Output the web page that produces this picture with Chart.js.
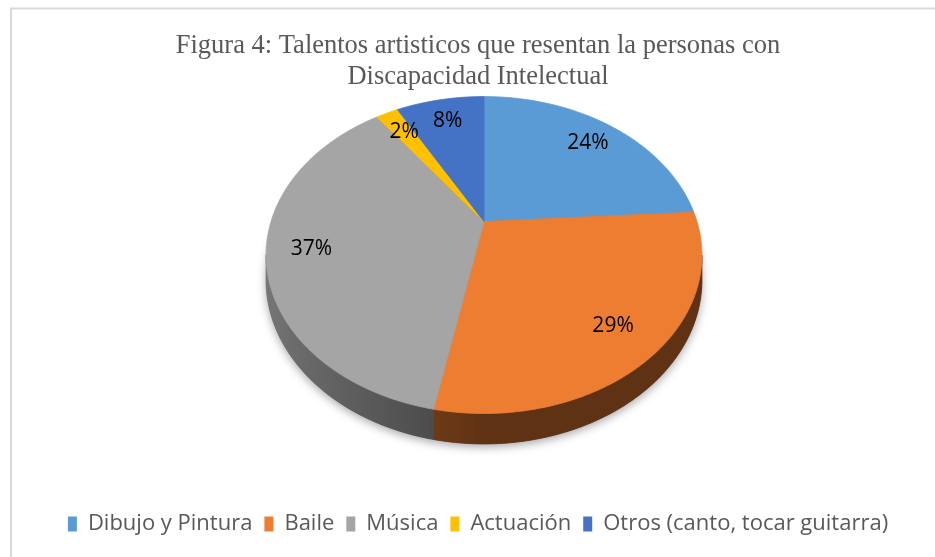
<!DOCTYPE html>
<html><head><meta charset="utf-8">
<script src="https://cdn.jsdelivr.net/npm/chart.js@4.4.0/dist/chart.umd.min.js"></script>
<style>html,body{margin:0;padding:0;background:#fff}canvas{display:block}</style>
</head><body>
<canvas id="c" width="935" height="557"></canvas>
<script>
const categories = ['Dibujo y Pintura', 'Baile', 'Música', 'Actuación', 'Otros (canto, tocar guitarra)'];
const values = [24, 29, 37, 2, 8];
const colors = ['#5b9bd5', '#ed7d31', '#a5a5a5', '#ffc000', '#4472c4'];
const titleLines = ['Figura 4: Talentos artisticos que resentan la personas con', 'Discapacidad Intelectual'];

// style / projection constants (3D look)
const GEOM = { A: 213, B: 151.4, k: 0.2114, H: 24, labelR: 0.8, topOffset: 125, dx: 6 };

function hexToRgb(h) { const n = parseInt(h.slice(1), 16); return [(n >> 16) & 255, (n >> 8) & 255, n & 255]; }
function shade(hex, f) { const c = hexToRgb(hex); return 'rgb(' + c.map(v => Math.round(v * f)).join(',') + ')'; }
function sideFactor(th) { return 0.4 + 0.33 * Math.max(0, -Math.sin(th)); }

const pie3d = {
  id: 'pie3d',
  beforeDraw(chart) {
    const ctx = chart.ctx;
    ctx.save();
    ctx.strokeStyle = '#d9d9d9';
    ctx.lineWidth = 2;
    ctx.strokeRect(11, 8.5, 3000, 3000);
    ctx.restore();
  },
  beforeDatasetsDraw(chart) {
    const ctx = chart.ctx;
    const meta = chart.getDatasetMeta(0);
    const ca = chart.chartArea;
    const cx = (ca.left + ca.right) / 2 + GEOM.dx, cy = ca.top + GEOM.topOffset;
    const P = (th, f, d) => {
      const s = Math.sin(th), c = Math.cos(th);
      const w = 1 + GEOM.k * f * c;
      return [cx + GEOM.A * f * s / w, cy - GEOM.B * f * c / w + GEOM.H * d / w];
    };
    const arcs = meta.data.map((a, i) => ({ s: a.startAngle + Math.PI / 2, e: a.endAngle + Math.PI / 2, i }));
    const step = Math.PI / 360;
    const ds = chart.data.datasets[0];
    ctx.save();
    // shadow under the disk
    ctx.beginPath();
    for (let t = 0; t <= Math.PI * 2 + 1e-9; t += step) {
      const p = P(t, 1, 1);
      if (t === 0) ctx.moveTo(p[0], p[1]); else ctx.lineTo(p[0], p[1]);
    }
    ctx.closePath();
    ctx.shadowColor = 'rgba(0,0,0,0.35)';
    ctx.shadowBlur = 10;
    ctx.shadowOffsetY = 3;
    ctx.fillStyle = '#555';
    ctx.fill();
    ctx.shadowColor = 'transparent';
    ctx.shadowBlur = 0; ctx.shadowOffsetY = 0;
    // sides
    const t1 = Math.acos(-GEOM.k), t2 = 2 * Math.PI - t1;
    arcs.forEach(a => {
      const lo = Math.max(a.s, t1), hi = Math.min(a.e, t2);
      if (hi <= lo) return;
      const base = ds.backgroundColor[a.i];
      const pts = [];
      const n = Math.max(2, Math.ceil((hi - lo) / step));
      for (let j = 0; j <= n; j++) pts.push(lo + (hi - lo) * j / n);
      ctx.beginPath();
      pts.forEach((t, j) => { const p = P(t, 1, 0); if (j === 0) ctx.moveTo(p[0], p[1]); else ctx.lineTo(p[0], p[1]); });
      for (let j = pts.length - 1; j >= 0; j--) { const p = P(pts[j], 1, 1); ctx.lineTo(p[0], p[1]); }
      ctx.closePath();
      const xs = pts.map(t => P(t, 1, 0)[0]);
      const xmin = Math.min(...xs), xmax = Math.max(...xs);
      const g = ctx.createLinearGradient(xmin, 0, xmax + 0.001, 0);
      for (let j = 0; j <= 8; j++) {
        const t = lo + (hi - lo) * j / 8;
        const x = P(t, 1, 0)[0];
        g.addColorStop(Math.min(1, Math.max(0, (x - xmin) / (xmax - xmin + 0.001))), shade(base, sideFactor(t)));
      }
      ctx.fillStyle = g;
      ctx.fill();
      ctx.strokeStyle = g; ctx.lineWidth = 0.8; ctx.stroke();
    });
    // top faces
    arcs.forEach(a => {
      const base = ds.backgroundColor[a.i];
      ctx.beginPath();
      const o = P(0, 0, 0);
      ctx.moveTo(o[0], o[1]);
      const n = Math.max(2, Math.ceil((a.e - a.s) / step));
      for (let j = 0; j <= n; j++) { const p = P(a.s + (a.e - a.s) * j / n, 1, 0); ctx.lineTo(p[0], p[1]); }
      ctx.closePath();
      ctx.fillStyle = base; ctx.fill();
      ctx.strokeStyle = base; ctx.lineWidth = 0.8; ctx.stroke();
    });
    // labels
    const total = ds.data.reduce((x, y) => x + y, 0);
    ctx.fillStyle = '#000';
    ctx.font = '21px "Open Sans"';
    ctx.textAlign = 'center';
    ctx.textBaseline = 'middle';
    arcs.forEach(a => {
      const m = (a.s + a.e) / 2;
      const p = P(m, GEOM.labelR, 0);
      ctx.fillText(Math.round(ds.data[a.i] / total * 100) + '%', p[0], p[1]);
    });
    ctx.restore();
    return false;
  }
};

new Chart(document.getElementById('c'), {
  type: 'pie',
  data: { labels: categories, datasets: [{ data: values, backgroundColor: colors, borderWidth: 0 }] },
  options: {
    responsive: false,
    animation: false,
    devicePixelRatio: 1,
    events: [],
    layout: { padding: { left: 21, right: 0, top: 0, bottom: 12 } },
    plugins: {
      title: {
        display: true, text: titleLines, color: '#595959',
        font: { family: '"Liberation Serif", "Times New Roman", serif', size: 26.5, weight: 'normal', lineHeight: 1.18 },
        padding: { top: 30, bottom: 4 }
      },
      legend: {
        position: 'bottom',
        labels: { boxWidth: 9, boxHeight: 15, color: '#595959', font: { family: '"Open Sans"', size: 22 }, padding: 12 }
      },
      tooltip: { enabled: false }
    }
  },
  plugins: [pie3d]
});
</script>
</body></html>
